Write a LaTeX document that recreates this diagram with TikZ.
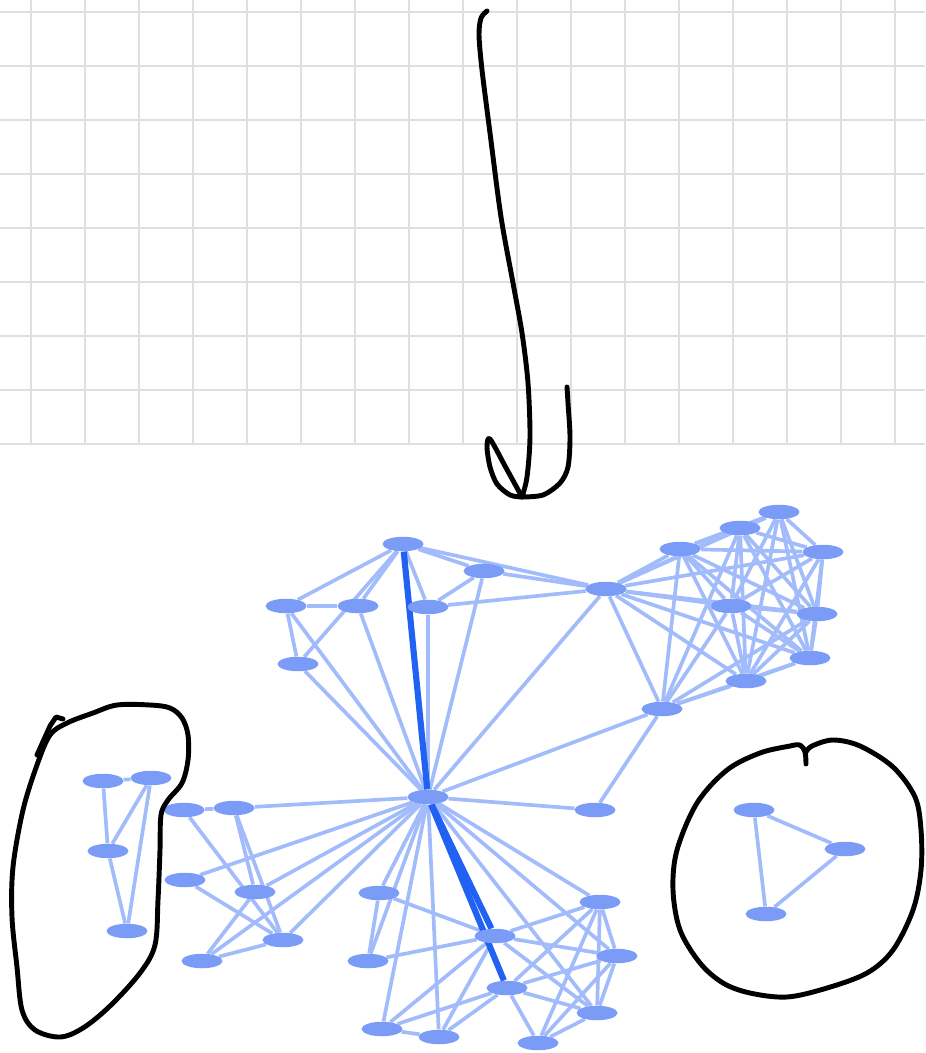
\documentclass[tikz,border=0pt]{standalone}
\usepackage{tikz}
\usetikzlibrary{shapes.geometric,backgrounds}
\definecolor{nodeblue}{HTML}{7A9CF6}
\definecolor{edgeblue}{HTML}{A2BCFB}
\definecolor{darkedge}{HTML}{2262F2}
\definecolor{gridgray}{HTML}{DFDFDF}

\begin{document}
\begin{tikzpicture}[x=0.02cm,y=-0.02cm,
  vert/.style={ellipse,fill=nodeblue,minimum width=0.82cm,minimum height=0.29cm,inner sep=0pt},
  edge/.style={edgeblue,line width=2.1pt},
  heavy/.style={darkedge,line width=3.5pt},
  pen/.style={black,line width=2.8pt,line cap=round,line join=round}]
\useasboundingbox (0,0) rectangle (925,1053);
\foreach \y in {12,66,...,444} \draw[gridgray,line width=0.8pt] (0,\y)--(925,\y);
\foreach \x in {31,85,...,895} \draw[gridgray,line width=0.8pt] (\x,0)--(\x,445);

\draw[pen] plot[smooth,tension=0.5] coordinates {(487,11) (481,18) (479,35) (482,70) (490,133) (501,217) (513,283) (522,333) (528,383) (530,437) (527,477) (522,497)};
\draw[pen] plot[smooth,tension=0.5] coordinates {(522,497) (505,466) (490,439) (487,447) (490,467) (497,484) (510,495) (522,497)};
\draw[pen] plot[smooth,tension=0.5] coordinates {(522,497) (543,495) (560,483) (568,467) (570,437) (568,403) (567,387)};

\node[vert] (hub) at (428,797) {};
\node[vert] (up1) at (403,544) {};
\node[vert] (up2) at (484,571) {};
\node[vert] (up3) at (606,589) {};
\node[vert] (up4) at (286,606) {};
\node[vert] (up5) at (358,606) {};
\node[vert] (up6) at (428,607) {};
\node[vert] (up7) at (298,664) {};
\node[vert] (up8) at (595,810) {};
\node[vert] (up9) at (662,709) {};
\node[vert] (cl1) at (680,549) {};
\node[vert] (cl2) at (740,528) {};
\node[vert] (cl3) at (779,512) {};
\node[vert] (cl4) at (823,552) {};
\node[vert] (cl5) at (731,606) {};
\node[vert] (cl6) at (817,614) {};
\node[vert] (cl7) at (810,658) {};
\node[vert] (cl8) at (746,681) {};
\node[vert] (lf1) at (103,781) {};
\node[vert] (lf2) at (151,778) {};
\node[vert] (lf3) at (108,851) {};
\node[vert] (lf4) at (127,931) {};
\node[vert] (ll1) at (184,810) {};
\node[vert] (ll2) at (234,808) {};
\node[vert] (ll3) at (185,880) {};
\node[vert] (ll4) at (255,892) {};
\node[vert] (ll5) at (283,940) {};
\node[vert] (ll6) at (202,961) {};
\node[vert] (lo1) at (379,893) {};
\node[vert] (lo2) at (368,961) {};
\node[vert] (lo3) at (495,936) {};
\node[vert] (lo4) at (600,902) {};
\node[vert] (lo5) at (617,956) {};
\node[vert] (lo6) at (507,988) {};
\node[vert] (lo7) at (597,1013) {};
\node[vert] (lo8) at (382,1029) {};
\node[vert] (lo9) at (439,1037) {};
\node[vert] (lo10) at (538,1043) {};
\node[vert] (rt1) at (754,810) {};
\node[vert] (rt2) at (845,849) {};
\node[vert] (rt3) at (766,914) {};

\begin{pgfonlayer}{background}
\foreach \a/\b in {up1/up4,up1/up5,up1/up7,up1/up2,up1/up3,up1/up6,up2/up3,up2/up6,up2/hub,up6/up3,
  up4/up5,up4/up7,up4/hub,up7/hub,up5/hub,up6/hub,up3/hub,up3/up9,up9/hub,up9/up8,hub/up8,
  lf1/lf2,lf1/lf3,lf2/lf3,lf2/lf4,lf3/lf4,
  ll1/ll2,ll1/ll5,ll2/ll4,ll2/ll5,ll3/ll5,ll4/ll6,ll5/ll6,ll2/hub,ll3/hub,ll4/hub,ll5/hub,ll6/hub,
  lo1/lo2,lo1/lo3,lo1/hub,lo2/hub,lo2/lo3,lo8/hub,lo9/hub,lo8/lo9,lo8/lo3,lo8/lo6,lo9/lo3,lo9/lo6,
  lo3/lo4,lo3/lo5,lo3/lo7,lo6/lo10,lo4/hub,lo5/hub,lo7/hub,lo4/lo6,lo4/lo10,lo4/lo7,lo4/lo5,
  lo5/lo6,lo5/lo7,lo5/lo10,lo6/lo7,lo7/lo10,
  up9/cl1,up9/cl2,up9/cl5,up9/cl6,up9/cl7,up9/cl8,
  rt1/rt2,rt1/rt3,rt2/rt3}
  \draw[edge] (\a)--(\b);
\foreach \i in {1,...,8} \draw[edge] (up3)--(cl\i);
\foreach \i [evaluate=\i as \k using int(\i+1)] in {1,...,7}
  \foreach \j in {\k,...,8} \draw[edge] (cl\i)--(cl\j);
\draw[heavy] (up1)--(hub);
\draw[heavy] (hub)--(lo3);
\draw[heavy] (hub)--(lo6);
\end{pgfonlayer}

\draw[pen] (37,755)--(50,726)--(56,717)--(63,719);
\draw[pen] plot[smooth cycle,tension=0.55] coordinates {(50,735) (67,723) (93,713) (117,705) (150,705) (170,708) (182,718) (188,735) (188,760) (182,783) (168,800) (161,815) (160,850) (158,900) (155,945) (140,973) (110,1006) (83,1028) (60,1037) (35,1030) (22,1010) (17,967) (12,917) (13,867) (23,810) (37,765)};
\draw[pen] plot[smooth,tension=0.55] coordinates {(806,764) (805,752) (800,745) (790,746) (760,753) (727,770) (697,803) (677,850) (673,890) (680,930) (700,963) (723,983) (750,993) (787,997) (827,988) (867,973) (893,950) (913,910) (921,870) (921,830) (915,797) (893,767) (860,746) (833,740) (812,746) (806,752)};
\end{tikzpicture}
\end{document}
